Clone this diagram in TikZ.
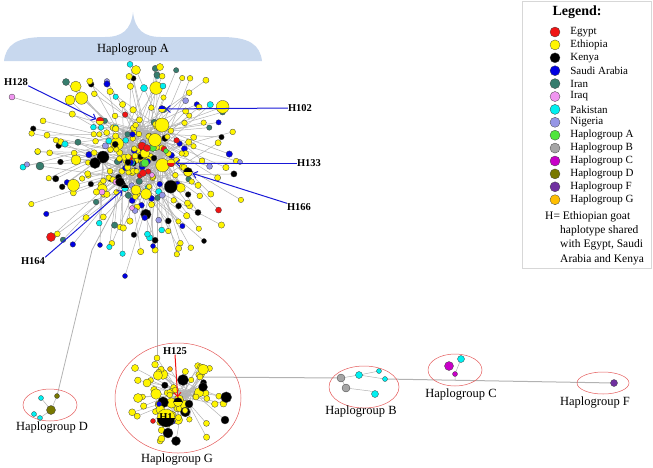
\documentclass[tikz,border=0pt]{standalone}
\usepackage{fontspec}
\setmainfont{Liberation Serif}
\usetikzlibrary{arrows.meta,positioning}
\definecolor{EgyptRed}{RGB}{240,20,20}
\definecolor{EthiopiaYellow}{RGB}{255,245,0}
\definecolor{KenyaBlack}{RGB}{0,0,0}
\definecolor{SaudiBlue}{RGB}{0,0,225}
\definecolor{IranTeal}{RGB}{55,125,110}
\definecolor{IraqPink}{RGB}{240,150,240}
\definecolor{PakistanCyan}{RGB}{0,240,240}
\definecolor{NigeriaLilac}{RGB}{150,150,230}
\definecolor{HapAGreen}{RGB}{80,230,60}
\definecolor{HapBGray}{RGB}{165,165,165}
\definecolor{HapCMagenta}{RGB}{200,0,200}
\definecolor{HapDOlive}{RGB}{120,120,0}
\definecolor{HapFPurple}{RGB}{112,48,160}
\definecolor{HapGOrange}{RGB}{255,190,0}
\definecolor{LinkGray}{RGB}{178,178,178}
\definecolor{RingRed}{RGB}{228,90,90}
\definecolor{PointerBlue}{RGB}{25,25,215}
\definecolor{BraceBlue}{RGB}{200,216,238}
\definecolor{FrameGray}{RGB}{215,215,215}
% hand placed haplotypes: x/y/colour/size
\def\handA{12/97/IraqPink/6, 51/237/EgyptRed/9, 102/192/IraqPink/6,
    116/182/IraqPink/6, 132/208/IraqPink/5, 152/175/IraqPink/5, 145/163/HapAGreen/8,
    153/148/HapAGreen/7, 166/151/HapAGreen/5, 142/146/EgyptRed/8, 147/148/EgyptRed/7,
    143/173/EgyptRed/7, 162/125/EthiopiaYellow/14, 155/140/EthiopiaYellow/13,
    70/100/EthiopiaYellow/10, 76/160/EthiopiaYellow/10, 103/157/KenyaBlack/12,
    95/163/KenyaBlack/11, 120/182/KenyaBlack/9, 146/194/EthiopiaYellow/11,
    136/190/EthiopiaYellow/10, 100/245/SaudiBlue/5, 125/276/SaudiBlue/5, 153/246/SaudiBlue/5,
    204/241/KenyaBlack/5, 240/162/NigeriaLilac/5, 160/67/EthiopiaYellow/7, 136/70/EthiopiaYellow/9,
    144/88/PakistanCyan/7, 163/86/PakistanCyan/6, 40/166/IranTeal/8, 66/82/IranTeal/7}
\def\handG{183/380/KenyaBlack/11, 203/387/KenyaBlack/9,
    189/404/KenyaBlack/8, 225/420/KenyaBlack/8, 168/433/KenyaBlack/10, 176/441/KenyaBlack/9,
    170/369/HapGOrange/5, 159/404/SaudiBlue/5, 153/421/EgyptRed/5, 172/421/SaudiBlue/7,
    138/398/EthiopiaYellow/9, 147/383/EthiopiaYellow/8, 135/368/EthiopiaYellow/7}

\begin{document}
\begin{tikzpicture}[x=1pt,y=-1pt,
  hap/.style={circle,draw=black!75,line width=0.3pt,inner sep=0pt,minimum size=#1},
  hap/.default=6pt,
  pie/.style 2 args={hap,fill=#1,path picture={\fill[#2] (path picture bounding box.south west) rectangle (path picture bounding box.east);}},
  link/.style={draw=LinkGray,line width=0.5pt},
  ring/.style={draw=RingRed,line width=0.5pt},
  pointer/.style={-{Straight Barb[length=4pt,width=7pt]},draw=PointerBlue,line width=1pt},
  grouplabel/.style={font=\fontsize{12.5}{14}\selectfont,inner sep=0pt},
  tag/.style={font=\fontsize{10.5}{12}\selectfont\bfseries,inner sep=0pt},
  legtext/.style={font=\fontsize{11}{13}\selectfont,inner sep=0pt,anchor=west}]

\useasboundingbox (0,0) rectangle (653,467);

% brace over haplogroup A
\fill[BraceBlue] (4,61) .. controls (6,45) and (16,37) .. (45,37) -- (105,37)
  .. controls (122,37) and (131,30) .. (133,12) .. controls (135,30) and (144,37) .. (161,37)
  -- (221,37) .. controls (250,37) and (260,45) .. (262,61) -- cycle;
\node[grouplabel] (labA) at (133,50) {Haplogroup A};

% hubs in the core of haplogroup A and G
\pgfmathsetseed{2718}
\foreach \k in {1,...,16}
  \coordinate (h\k) at ({135+38*(2*rnd-1)},{155+32*(2*rnd-1)});
\foreach \k in {1,...,6}
  \coordinate (g\k) at ({186+16*(2*rnd-1)},{398+14*(2*rnd-1)});

% fixed positions
\coordinate (p128) at (100,121);
\coordinate (p102) at (162,109);
\coordinate (p133) at (171,163);
\coordinate (p166) at (188,172);
\coordinate (p164) at (125,188);
\coordinate (gdrop) at (157,200);
\coordinate (ddrop) at (92,250);
\coordinate (pgtop) at (157,358);
\coordinate (pgright) at (200,377);
\coordinate (p125) at (178,402);
\coordinate (p1) at (166,418);

% links of haplogroup A cloud
\foreach \i in {1,...,270}{
  \pgfmathsetmacro\ang{360*rnd}
  \pgfmathsetmacro\rad{\i<110 ? 0.45*rnd : 0.25+0.75*pow(rnd,0.8)}
  \pgfmathsetmacro\px{135+118*\rad*cos(\ang)}
  \pgfmathsetmacro\py{160+102*\rad*sin(\ang)}
  \pgfmathrandominteger\ci{0}{24}
  \pgfmathsetmacro\col{{"EthiopiaYellow","EthiopiaYellow","EthiopiaYellow","EthiopiaYellow","EthiopiaYellow","EthiopiaYellow","EthiopiaYellow","EthiopiaYellow","EthiopiaYellow","EthiopiaYellow","EthiopiaYellow","EthiopiaYellow","EthiopiaYellow","KenyaBlack","KenyaBlack","KenyaBlack","SaudiBlue","SaudiBlue","EgyptRed","IranTeal","IranTeal","PakistanCyan","PakistanCyan","NigeriaLilac","EthiopiaYellow"}[\ci]}
  \pgfmathsetmacro\sz{(rnd<0.08 && \ci<16) ? 9+5*rnd : 5.3+1.2*rnd}
  \pgfmathrandominteger\hk{1}{16}
  \coordinate (pa\i) at (\px,\py);
  \draw[link] (pa\i) -- (h\hk);
  \expandafter\xdef\csname acol\i\endcsname{\col}
  \expandafter\xdef\csname asz\i\endcsname{\sz}
}
\foreach \x/\y/\c/\s [count=\j] in \handA{
  \pgfmathtruncatemacro\hk{mod(\j*7,16)+1}
  \draw[link] (\x,\y) -- (h\hk);
}
\foreach \p/\k in {p128/3,p102/5,p133/7,p166/9,p164/11,gdrop/14}
  \draw[link] (\p) -- (h\k);

% links of haplogroup G cloud
\pgfmathsetseed{1414}
\foreach \i in {1,...,62}{
  \pgfmathsetmacro\ang{360*rnd}
  \pgfmathsetmacro\rad{pow(rnd,0.7)}
  \pgfmathsetmacro\px{180+52*\rad*cos(\ang)}
  \pgfmathsetmacro\py{402+44*\rad*sin(\ang)}
  \pgfmathrandominteger\ci{0}{11}
  \pgfmathsetmacro\col{{"EthiopiaYellow","EthiopiaYellow","EthiopiaYellow","EthiopiaYellow","EthiopiaYellow","EthiopiaYellow","EthiopiaYellow","EthiopiaYellow","EthiopiaYellow","EthiopiaYellow","KenyaBlack","EthiopiaYellow"}[\ci]}
  \pgfmathsetmacro\sz{rnd<0.15 ? 8+3*rnd : 5.5+1.5*rnd}
  \pgfmathrandominteger\hk{1}{6}
  \coordinate (pb\i) at (\px,\py);
  \draw[link] (pb\i) -- (g\hk);
  \expandafter\xdef\csname bcol\i\endcsname{\col}
  \expandafter\xdef\csname bsz\i\endcsname{\sz}
}
\foreach \x/\y/\c/\s [count=\j] in \handG{
  \pgfmathtruncatemacro\hk{mod(\j*5,6)+1}
  \draw[link] (\x,\y) -- (g\hk);
}
\foreach \p/\k in {pgtop/2,pgright/4,p1/1,p125/3}
  \draw[link] (\p) -- (g\k);

% long links between groups
\draw[link,line width=1pt] (gdrop) -- (pgtop);
\draw[link,line width=0.8pt] (p164) -- (ddrop) -- (57,396);
\draw[link,line width=1pt] (pgright) -- (341,378);
\draw[link,line width=1pt] (385,379) -- (614,383);

% nodes of haplogroup A
\foreach \i in {1,...,270}{
  \edef\c{\csname acol\i\endcsname}\edef\s{\csname asz\i\endcsname}
  \node[hap=\s pt,fill=\c] (a\i) at (pa\i) {};
}
\foreach \x/\y/\c/\s [count=\j] in \handA
  \node[hap=\s pt,fill=\c] (x\j) at (\x,\y) {};

% shared haplotypes
\node[pie={EgyptRed}{EthiopiaYellow},minimum size=8pt] (n128) at (p128) {};
\node[pie={SaudiBlue}{EthiopiaYellow},minimum size=7pt] (n102) at (p102) {};
\node[pie={EthiopiaYellow}{EgyptRed},minimum size=8pt] (n133) at (p133) {};
\node[pie={KenyaBlack}{EthiopiaYellow},minimum size=9pt] (n166) at (p166) {};
\node[pie={KenyaBlack}{PakistanCyan},minimum size=7pt] (n164) at (p164) {};

\node[tag] (t128) at (16,82) {H128};
\node[tag] (t102) at (300,108) {H102};
\node[tag] (t133) at (309,163) {H133};
\node[tag] (t166) at (299,207) {H166};
\node[tag] (t164) at (33,261) {H164};
\draw[pointer] (t128.south east) -- (n128);
\draw[pointer] (t102.west) -- (n102);
\draw[pointer] (t133.west) -- (n133);
\draw[pointer] (t166.north west) -- (n166);
\draw[pointer] (t164.north east) -- (n164);

% nodes of haplogroup G
\foreach \i in {1,...,62}{
  \edef\c{\csname bcol\i\endcsname}\edef\s{\csname bsz\i\endcsname}
  \node[hap=\s pt,fill=\c] (b\i) at (pb\i) {};
}
\foreach \x/\y/\c/\s [count=\j] in \handG
  \node[hap=\s pt,fill=\c] (y\j) at (\x,\y) {};
\node[hap,fill=EthiopiaYellow] (gtop) at (pgtop) {};
\node[hap,fill=EthiopiaYellow] (gright) at (pgright) {};
\node[pie={KenyaBlack}{EthiopiaYellow},minimum size=9pt] (n125) at (p125) {};
\node[pie={EthiopiaYellow}{KenyaBlack},minimum size=18pt] (n1) at (p1) {};
\node[tag] (t1) at (166,417) {H1};
\node[tag] (t125) at (175,351) {H125};
\draw[pointer,draw=EgyptRed] (t125.south) -- (n125);
\draw[ring] (178,398) ellipse [x radius=63pt,y radius=55pt];
\node[grouplabel] (labG) at (177,460) {Haplogroup G};

% haplogroup D
\coordinate (dk) at (40,418);
\draw[link] (57,396) -- (51,410) -- (41,398) (51,410) -- (dk) -- (34,414);
\node[hap=5pt,fill=HapDOlive] (d1) at (57,396) {};
\node[hap=9pt,fill=HapDOlive] (d2) at (51,410) {};
\node[hap=5pt,fill=PakistanCyan] (d3) at (41,398) {};
\node[hap=5pt,fill=PakistanCyan] (d4) at (34,414) {};
\node[hap=5pt,fill=PakistanCyan] (d5) at (dk) {};
\draw[ring] (50,405) ellipse [x radius=27pt,y radius=16pt];
\node[grouplabel] (labD) at (52,428) {Haplogroup D};

% haplogroup B
\coordinate (bk) at (370,391);
\draw[link] (341,378) -- (359,375) -- (379,371) (359,375) -- (385,379)
  (341,378) -- (346,388) -- (bk) -- (375,394);
\node[hap=8pt,fill=HapBGray] (b1) at (341,378) {};
\node[hap=7pt,fill=PakistanCyan] (b2) at (359,375) {};
\node[hap=5pt,fill=PakistanCyan] (b3) at (379,371) {};
\node[hap=5pt,fill=PakistanCyan] (b4) at (385,379) {};
\node[hap=8pt,fill=HapBGray] (b5) at (346,388) {};
\node[hap=7pt,fill=PakistanCyan] (b6) at (375,394) {};
\draw[ring] (364,387) ellipse [x radius=35pt,y radius=21pt];
\node[grouplabel] (labB) at (361,412) {Haplogroup B};

% haplogroup C
\coordinate (cj) at (455,381);
\draw[link] (461,359) -- (455,374) -- (cj);
\node[hap=9pt,fill=HapCMagenta] (c1) at (449,366) {};
\node[hap=7pt,fill=PakistanCyan] (c2) at (461,359) {};
\node[hap=5pt,fill=HapCMagenta] (c3) at (455,374) {};
\draw[ring] (455,370) ellipse [x radius=27pt,y radius=16pt];
\node[grouplabel] (labC) at (461,395) {Haplogroup C};

% haplogroup F
\node[hap=7pt,fill=HapFPurple] (f1) at (614,383) {};
\draw[ring] (603,383) ellipse [x radius=26pt,y radius=11pt];
\node[grouplabel] (labF) at (595,403) {Haplogroup F};

% legend
\draw[FrameGray] (522,1) rectangle (651,268);
\node[font=\fontsize{14}{16}\selectfont\bfseries,inner sep=0pt] (legtitle) at (577,12) {Legend:};
\foreach \c/\t [count=\k] in {EgyptRed/Egypt, EthiopiaYellow/Ethiopia, KenyaBlack/Kenya,
    SaudiBlue/Saudi Arabia, IranTeal/Iran, IraqPink/Iraq, PakistanCyan/Pakistan,
    NigeriaLilac/Nigeria, HapAGreen/Haplogroup A, HapBGray/Haplogroup B,
    HapCMagenta/Haplogroup C, HapDOlive/Haplogroup D, HapFPurple/Haplogroup F,
    HapGOrange/Haplogroup G}{
  \node[hap=10pt,fill=\c] (lg\k) at (555,{32+12.9*(\k-1)}) {};
  \node[legtext,right=10pt of lg\k] (lt\k) {\t};
}
\node[legtext,font=\fontsize{11.5}{13}\selectfont] (note1) at (545,217) {H= Ethiopian goat};
\node[legtext,font=\fontsize{11.5}{13}\selectfont] (note2) at (560,231) {haplotype shared};
\node[legtext,font=\fontsize{11.5}{13}\selectfont] (note3) at (560,245) {with Egypt, Saudi};
\node[legtext,font=\fontsize{11.5}{13}\selectfont] (note4) at (560,260) {Arabia and Kenya};
\end{tikzpicture}
\end{document}
